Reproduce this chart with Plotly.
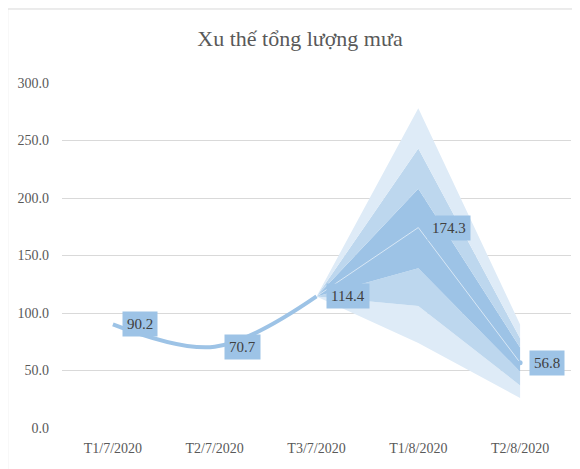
import plotly.graph_objects as go

categories = ["T1/7/2020", "T2/7/2020", "T3/7/2020", "T1/8/2020", "T2/8/2020"]
observed_x = ["T1/7/2020", "T2/7/2020", "T3/7/2020"]
observed_y = [90.2, 70.7, 114.4]

fan_x = ["T3/7/2020", "T1/8/2020", "T2/8/2020"]
fan_center = [114.4, 174.3, 56.8]
fan_b1 = [114.4, 74.0, 26.0]
fan_b2 = [114.4, 106.0, 37.0]
fan_b3 = [114.4, 139.0, 49.0]
fan_t3 = [114.4, 208.0, 70.0]
fan_t2 = [114.4, 243.0, 78.0]
fan_t1 = [114.4, 278.0, 90.0]

label_x = ["T1/7/2020", "T2/7/2020", "T3/7/2020", "T1/8/2020", "T2/8/2020"]
label_y = [90.2, 70.7, 114.4, 174.3, 56.8]
label_text = ["90.2", "70.7", "114.4", "174.3", "56.8"]

LIGHT = "#DEEBF7"
MED = "#BDD7EE"
DARK = "#9DC3E6"
FONT = "Liberation Serif"

fig = go.Figure()

bands = [
    (fan_b1, None),
    (fan_b2, LIGHT),
    (fan_b3, MED),
    (fan_t3, DARK),
    (fan_t2, MED),
    (fan_t1, LIGHT),
]
for vals, col in bands:
    fig.add_trace(go.Scatter(
        x=fan_x, y=vals, mode="lines",
        line=dict(width=0, color=col or LIGHT),
        fill="tonexty" if col else None,
        fillcolor=col,
        hoverinfo="skip", showlegend=False,
    ))

fig.add_trace(go.Scatter(
    x=fan_x, y=fan_center, mode="lines",
    line=dict(width=1, color="rgba(255,255,255,0.6)"),
    showlegend=False, hoverinfo="skip",
))
fig.add_trace(go.Scatter(
    x=fan_x[-1:], y=fan_center[-1:], mode="markers",
    marker=dict(size=5, color=DARK),
    showlegend=False, hoverinfo="skip",
))

fig.add_trace(go.Scatter(
    x=observed_x, y=observed_y, mode="lines",
    line=dict(width=4, color=DARK, shape="spline", smoothing=1.0),
    showlegend=False, hoverinfo="skip",
))

for xv, yv, tv in zip(label_x, label_y, label_text):
    fig.add_annotation(
        x=xv, y=yv, text=tv, showarrow=False,
        xanchor="left", yanchor="middle", xshift=9,
        bgcolor=DARK, borderpad=4,
        font=dict(family=FONT, size=15, color="#404040"),
    )

# outer chart border
fig.add_shape(
    type="rect", xref="paper", yref="paper",
    x0=-0.1067, x1=1.05, y0=-0.15, y1=1.2145,
    line=dict(color="#D9D9D9", width=1), fillcolor="rgba(0,0,0,0)",
    layer="below",
)

fig.update_layout(
    width=572, height=461,
    margin=dict(l=52, r=9, t=75, b=41),
    paper_bgcolor="white", plot_bgcolor="white",
    title=dict(
        text="Xu thế tổng lượng mưa",
        x=0.5105, xanchor="center", xref="container",
        y=0.935, yanchor="middle", yref="container",
        font=dict(family=FONT, size=22, color="#595959"),
    ),
    showlegend=False,
    xaxis=dict(
        type="category", categoryorder="array", categoryarray=categories,
        range=[-0.5, 4.5], showgrid=False, zeroline=False, showline=False,
        tickvals=categories, ticktext=categories,
        tickfont=dict(family=FONT, size=14, color="#595959"),
        ticks="", ticklabelstandoff=10,
    ),
    yaxis=dict(
        range=[0, 300], dtick=50, tick0=0, tickformat=".1f",
        showgrid=True, gridcolor="#D9D9D9", gridwidth=1,
        zeroline=False, showline=False, ticks="",
        tickfont=dict(family=FONT, size=14, color="#595959"),
        ticklabelstandoff=12,
    ),
)

fig.write_html("out.html")
